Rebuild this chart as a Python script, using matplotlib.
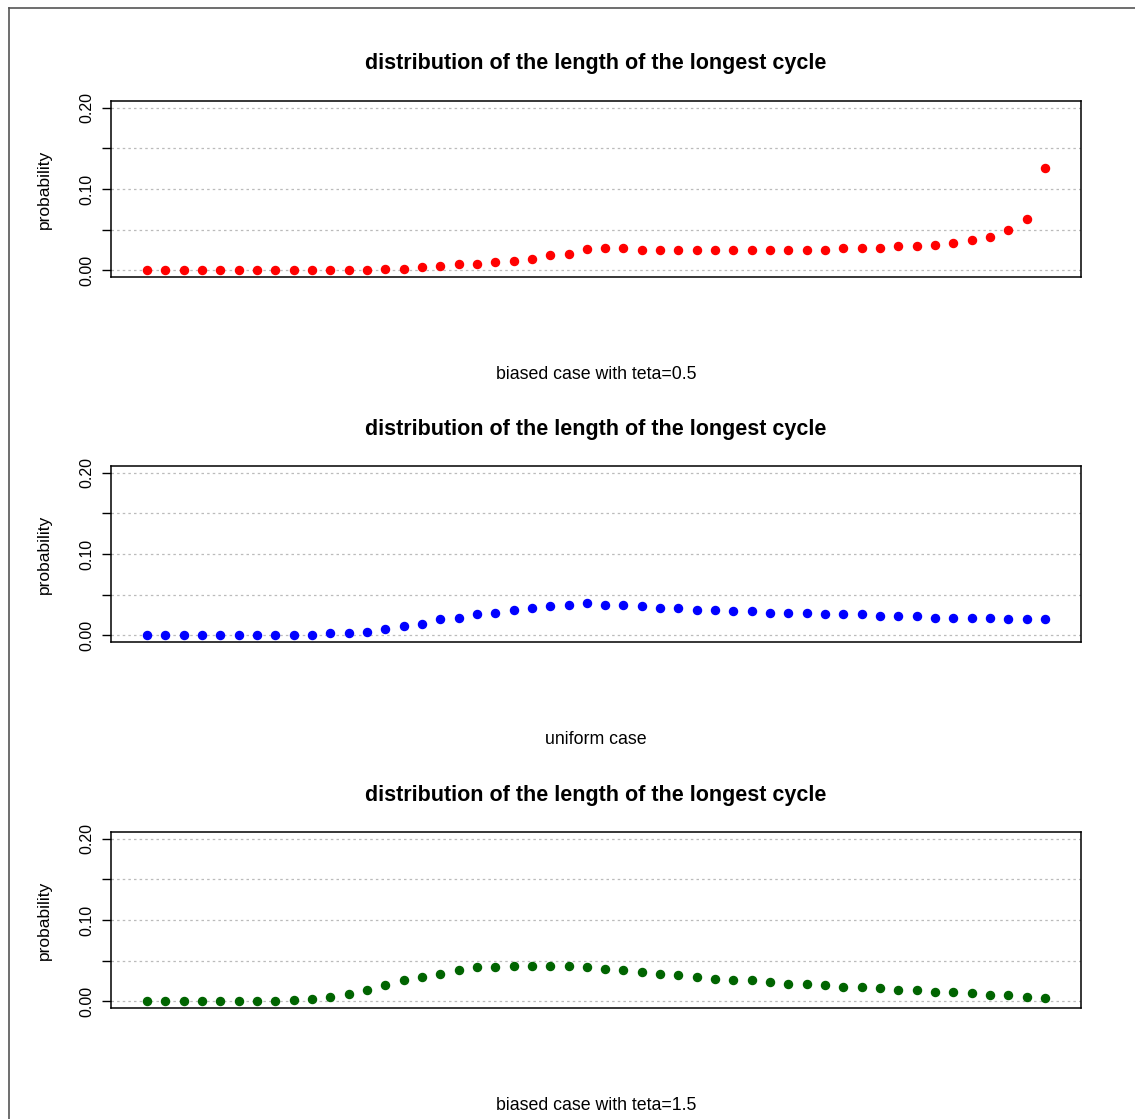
import numpy as np
import matplotlib
matplotlib.use('Agg')
import matplotlib.pyplot as plt
from matplotlib.lines import Line2D

plt.rcParams['font.family'] = ['Liberation Sans', 'DejaVu Sans']

# length of the longest cycle, 1..50
lengths = np.arange(1, 51)

# biased case, teta = 0.5
p_teta05 = [0, 0, 0, 0, 0, 0, 0, 0, 0, 0,
            0, 0, 0, 0.0016, 0.002, 0.0045, 0.0061, 0.0082, 0.0082, 0.0102,
            0.0118, 0.0139, 0.0184, 0.0204, 0.0261, 0.0282, 0.0275, 0.0254, 0.0254, 0.0254,
            0.0254, 0.0254, 0.0254, 0.0254, 0.0254, 0.0254, 0.0254, 0.0254, 0.0275, 0.0275,
            0.0275, 0.0295, 0.0295, 0.0316, 0.0336, 0.0373, 0.0414, 0.0496, 0.0635, 0.1258]

# uniform case
p_uniform = [0, 0, 0, 0, 0, 0, 0, 0, 0, 0,
             0.0025, 0.0025, 0.0041, 0.0078, 0.0119, 0.0139, 0.0197, 0.0217, 0.0258, 0.0279,
             0.0316, 0.0336, 0.0357, 0.0377, 0.0398, 0.0377, 0.0377, 0.0357, 0.0336, 0.0336,
             0.0316, 0.0316, 0.0295, 0.0295, 0.0275, 0.0275, 0.0275, 0.0258, 0.0258, 0.0258,
             0.0238, 0.0238, 0.0238, 0.0217, 0.0217, 0.0217, 0.0217, 0.0197, 0.0197, 0.0197]

# biased case, teta = 1.5
p_teta15 = [0, 0, 0, 0, 0, 0, 0, 0, 0.0016, 0.0025,
            0.0057, 0.0094, 0.0139, 0.0197, 0.0258, 0.0299, 0.034, 0.0381, 0.0418, 0.0418,
            0.0439, 0.0439, 0.0439, 0.0439, 0.0418, 0.0402, 0.0381, 0.0361, 0.034, 0.032,
            0.0299, 0.0279, 0.0262, 0.0262, 0.0242, 0.0217, 0.0217, 0.0201, 0.018, 0.018,
            0.016, 0.0139, 0.0139, 0.0119, 0.0119, 0.0098, 0.0078, 0.0078, 0.0057, 0.0041]

panels = [
    (p_teta05, 'red', 'biased case with teta=0.5'),
    (p_uniform, 'blue', 'uniform case'),
    (p_teta15, '#006400', 'biased case with teta=1.5'),
]

yticks = [0, 0.05, 0.10, 0.15, 0.20]
yticklabels = ['0.00', '', '0.10', '', '0.20']

W, H = 1135, 1119
fig = plt.figure(figsize=(W / 100, H / 100), dpi=100, facecolor='white')

# outer frame (left and top only)
fig.add_artist(Line2D([9 / W, 9 / W], [0, 1 - 8 / H], transform=fig.transFigure,
                      color='#555555', lw=1.2))
fig.add_artist(Line2D([9 / W, 1], [1 - 8 / H, 1 - 8 / H], transform=fig.transFigure,
                      color='#555555', lw=1.2))

ax_left, ax_w, ax_h = 111 / W, 970 / W, 176 / H
bottoms = [1 - 277 / H, 1 - 642 / H, 1 - 1008 / H]

for (vals, col, lab), bot in zip(panels, bottoms):
    ax = fig.add_axes([ax_left, bot, ax_w, ax_h])
    for y in yticks:
        ax.axhline(y, color='#bbbbbb', lw=0.9, ls=(0, (2, 2.5)), zorder=1)
    ax.plot(lengths, vals, 'o', color=col, ms=5.8, mec=col, zorder=3)
    ax.set_xlim(1 - 1.96, 50 + 1.96)
    ax.set_ylim(-0.008, 0.208)
    ax.set_xticks([])
    ax.set_yticks(yticks)
    ax.set_yticklabels(yticklabels)
    ax.tick_params(axis='y', length=6.5, width=1, pad=5.5, labelsize=11.5,
                   labelrotation=90, colors='black')
    for lbl in ax.get_yticklabels():
        lbl.set_va('center')
    for sp in ax.spines.values():
        sp.set_linewidth(1.1)
        sp.set_color('black')
    ax.text(0.5, 1 + 37 / 176, 'distribution of the length of the longest cycle',
            transform=ax.transAxes, ha='center', va='center',
            fontsize=15.5, fontweight='bold')
    ax.text(0.5, -97 / 176, lab, transform=ax.transAxes, ha='center', va='center',
            fontsize=12.8)
    ax.text(-67 / 970, 0.5, 'probability', transform=ax.transAxes, ha='center',
            va='center', rotation=90, fontsize=12.5)

fig.savefig('out.png', dpi=100, facecolor='white')
